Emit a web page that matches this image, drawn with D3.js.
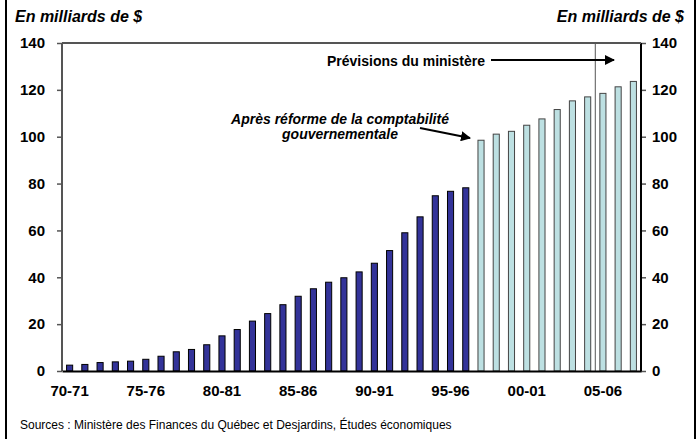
<!DOCTYPE html>
<html>
<head>
<meta charset="utf-8">
<script src="https://cdn.jsdelivr.net/npm/d3@7"></script>
<style>
  body { margin: 0; background: #fff; }
  text { font-family: Arial, "Liberation Sans", sans-serif; }
</style>
</head>
<body>
<svg id="chart" width="699" height="439"></svg>
<script>
// DATA
const years = [
  "70-71", "71-72", "72-73", "73-74", "74-75", "75-76", "76-77", "77-78", "78-79", "79-80",
  "80-81", "81-82", "82-83", "83-84", "84-85", "85-86", "86-87", "87-88", "88-89", "89-90",
  "90-91", "91-92", "92-93", "93-94", "94-95", "95-96", "96-97", "97-98", "98-99", "99-00",
  "00-01", "01-02", "02-03", "03-04", "04-05", "05-06", "06-07", "07-08",
];
const debt = [
  2.5, 2.8, 3.6, 3.9, 4.2, 5.0, 6.3, 8.2, 9.2, 11.2,
  15.0, 17.7, 21.3, 24.5, 28.3, 31.9, 35.1, 37.9, 39.8, 42.3,
  46.0, 51.4, 59.0, 65.8, 74.8, 76.7, 78.2, 98.5, 101.1, 102.3,
  104.9, 107.6, 111.6, 115.3, 117.0, 118.5, 121.3, 123.6,
];
// first year after the accounting reform
const reformStart = "97-98";
const xTickLabels = ["70-71", "75-76", "80-81", "85-86", "90-91", "95-96", "00-01", "05-06"];
const yTicks = [0, 20, 40, 60, 80, 100, 120, 140];

const canvas = d3.select("#chart");
const margin = { top: 43, right: 58, bottom: 68, left: 62 };
const width = +canvas.attr("width") - margin.left - margin.right,
  height = +canvas.attr("height") - margin.top - margin.bottom;

const x = d3.scaleBand().domain(years).range([0, width]).paddingInner(0.6).paddingOuter(0.3);
const y = d3.scaleLinear().domain([0, 140]).range([height, 0]);

// outer frame sides
canvas.append("line").attr("x1", 6).attr("x2", 6).attr("y1", 0).attr("y2", 439)
  .attr("stroke", "#000").attr("stroke-width", 2);
canvas.append("line").attr("x1", 695).attr("x2", 695).attr("y1", 0).attr("y2", 439)
  .attr("stroke", "#000").attr("stroke-width", 2);

const g = canvas.append("g").attr("transform", `translate(${margin.left},${margin.top})`);

// forecast divider
const divX = x("05-06") - (x.step() - x.bandwidth()) / 2;
g.append("line")
  .attr("x1", divX).attr("x2", divX).attr("y1", 0).attr("y2", height)
  .attr("stroke", "#555").attr("stroke-width", 1);

// BARS
const reformIdx = years.indexOf(reformStart);
g.selectAll("rect.bar")
  .data(years.map((d, i) => ({ year: d, value: debt[i], after: i >= reformIdx })))
  .join("rect")
  .attr("class", "bar")
  .attr("x", (d) => x(d.year))
  .attr("y", (d) => y(d.value))
  .attr("width", x.bandwidth())
  .attr("height", (d) => height - y(d.value))
  .attr("fill", (d) => (d.after ? "#bde0e2" : "#333399"))
  .attr("stroke", (d) => (d.after ? "#444" : "#000"))
  .attr("stroke-width", 1);

// AXES
const axisColor = "#555";
const gyl = g.append("g").call(d3.axisLeft(y).tickValues(yTicks).tickSize(5).tickPadding(12));
const gyr = g.append("g").attr("transform", `translate(${width},0)`)
  .call(d3.axisRight(y).tickValues(yTicks).tickSize(5).tickPadding(6));
[gyl, gyr].forEach((ax) => {
  ax.select(".domain").remove();
  ax.selectAll("line").attr("stroke", axisColor).attr("stroke-width", 1.5);
  ax.selectAll("text").attr("font-size", 15).attr("font-weight", "bold").attr("fill", "#000");
});
g.append("line").attr("x1", 0).attr("x2", 0).attr("y1", 0).attr("y2", height)
  .attr("stroke", axisColor).attr("stroke-width", 2);
g.append("line").attr("x1", width).attr("x2", width).attr("y1", 0).attr("y2", height)
  .attr("stroke", "#000").attr("stroke-width", 2);
g.append("line").attr("x1", 0).attr("x2", width).attr("y1", 0).attr("y2", 0)
  .attr("stroke", axisColor).attr("stroke-width", 2);

const gx = g.append("g").attr("transform", `translate(0,${height})`)
  .call(d3.axisBottom(x).tickValues(xTickLabels).tickSize(0).tickPadding(14));
gx.select(".domain").attr("stroke", "#000").attr("stroke-width", 2);
gx.selectAll("text").attr("font-size", 15).attr("font-weight", "bold").attr("fill", "#000");

// axis titles
canvas.append("text").attr("x", 15).attr("y", 22)
  .attr("font-size", 16).attr("font-weight", "bold").attr("font-style", "italic")
  .text("En milliards de $");
canvas.append("text").attr("x", 684).attr("y", 22).attr("text-anchor", "end")
  .attr("font-size", 16).attr("font-weight", "bold").attr("font-style", "italic")
  .text("En milliards de $");

// ANNOTATIONS
const defs = canvas.append("defs");
defs.append("marker").attr("id", "arrow").attr("viewBox", "0 0 10 10")
  .attr("refX", 9).attr("refY", 5).attr("markerWidth", 5).attr("markerHeight", 5)
  .attr("orient", "auto")
  .append("path").attr("d", "M0,0L10,5L0,10z").attr("fill", "#000");

const ga = canvas.append("g");
ga.append("text").attr("x", 406).attr("y", 66).attr("text-anchor", "middle")
  .attr("font-size", 14).attr("font-weight", "bold").text("Prévisions du ministère");
ga.append("line").attr("x1", 491).attr("x2", 614).attr("y1", 60).attr("y2", 60)
  .attr("stroke", "#000").attr("stroke-width", 2).attr("marker-end", "url(#arrow)");

const note = ga.append("text").attr("text-anchor", "middle")
  .attr("font-size", 14).attr("font-weight", "bold").attr("font-style", "italic");
note.append("tspan").attr("x", 340).attr("y", 124).text("Après réforme de la comptabilité");
note.append("tspan").attr("x", 340).attr("y", 139).text("gouvernementale");
ga.append("line").attr("x1", 420).attr("x2", 470).attr("y1", 128).attr("y2", 138)
  .attr("stroke", "#000").attr("stroke-width", 2).attr("marker-end", "url(#arrow)");

// source
canvas.append("text").attr("x", 20).attr("y", 429).attr("font-size", 12)
  .text("Sources : Ministère des Finances du Québec et Desjardins, Études économiques");
</script>
</body>
</html>
